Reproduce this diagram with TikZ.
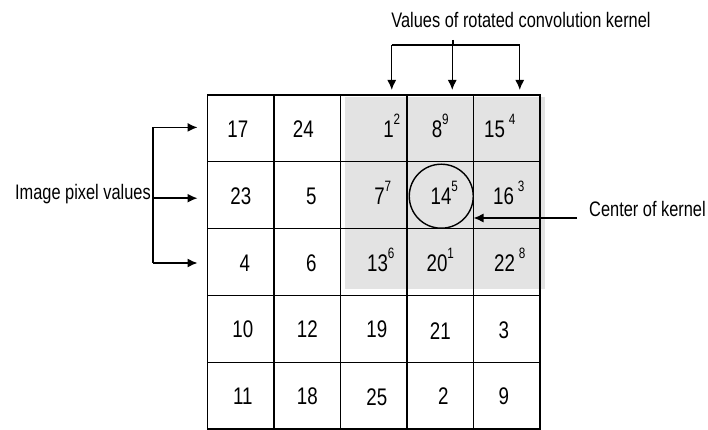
\documentclass[tikz,border=0pt]{standalone}
\usepackage{fontspec}
\setmainfont{Liberation Sans}[FakeStretch=0.78]
\usetikzlibrary{arrows.meta,calc}
\newcommand\kup[1]{\raisebox{13pt}{\fontsize{15}{15}\selectfont #1}}
\begin{document}
\begin{tikzpicture}[x=1pt,y=-1pt,
 cell/.style={draw, line width=1.4pt, minimum width=66.5pt, minimum height=66.8pt, inner sep=0pt, outer sep=0pt},
 num/.style={anchor=base, inner sep=0pt, font=\fontsize{24}{24}\selectfont},
 lbl/.style={inner sep=0pt, font=\fontsize{21}{21}\selectfont},
 arr/.style={line width=1.4pt, -{Latex[length=10pt,width=9pt]}},
 ln/.style={line width=1.4pt}]
\useasboundingbox (0,0) rectangle (708,430);
\fill[black!11] (345,97) rectangle (545,289);
\foreach \r in {1,...,5}{
  \foreach \c in {1,...,5}{
    \node[cell] (c\r\c) at ({207.5+66.5*(\c-0.5)},{95+66.8*(\r-0.5)}) {};
  }
}
% numbers
\node[num] (n11) at ($(c11.center)+(-3,9)$) {17};
\node[num] (n12) at ($(c12.center)+(-4,9)$) {24};
\node[num] (n13) at ($(c13.center)+(18,9)$) {1\kup{2}};
\node[num] (n14) at ($(c14.center)+(0,9)$) {8\kup{9}};
\node[num] (n15) at ($(c15.center)+(-7,9)$) {15\,\kup{4}};
\node[num] (n21) at ($(c21.center)+(0,9)$) {23};
\node[num] (n22) at ($(c22.center)+(4,9)$) {5};
\node[num] (n23) at ($(c23.center)+(9,9)$) {7\kup{7}};
\node[num] (n24) at ($(c24.center)+(4,9)$) {14\kup{5}};
\node[num] (n25) at ($(c25.center)+(2,9)$) {16\,\kup{3}};
\node[num] (n31) at ($(c31.center)+(4,9)$) {4};
\node[num] (n32) at ($(c32.center)+(4,9)$) {6};
\node[num] (n33) at ($(c33.center)+(7,9)$) {13\kup{6}};
\node[num] (n34) at ($(c34.center)+(0,9)$) {20\kup{1}};
\node[num] (n35) at ($(c35.center)+(3,9)$) {22\,\kup{8}};
\node[num] (n41) at ($(c41.center)+(2,9)$) {10};
\node[num] (n42) at ($(c42.center)+(0,9)$) {12};
\node[num] (n43) at ($(c43.center)+(3,9)$) {19};
\node[num] (n44) at ($(c44.center)+(0,11)$) {21};
\node[num] (n45) at ($(c45.center)+(-3,10)$) {3};
\node[num] (n51) at ($(c51.center)+(2,9)$) {11};
\node[num] (n52) at ($(c52.center)+(0,9)$) {18};
\node[num] (n53) at ($(c53.center)+(3,10)$) {25};
\node[num] (n54) at ($(c54.center)+(3,9)$) {2};
\node[num] (n55) at ($(c55.center)+(-3,9)$) {9};
% kernel centre circle
\node[draw, circle, line width=1.4pt, minimum size=64pt, inner sep=0pt] (ring) at ($(c24.center)+(1,1)$) {};
% top label and arrows
\node[lbl, anchor=base] (vk) at (521,28) {Values of rotated convolution kernel};
\coordinate (t1) at ($(c13.north)+(18,-5)$);
\coordinate (t2) at ($(c14.north)+(12,-5)$);
\coordinate (t3) at ($(c15.north)+(13,-5)$);
\coordinate (vj) at (453,45);
\draw[ln] ($(vk.base -| vj)+(0,12)$) -- (vj);
\draw[ln] (t1 |- vj) -- (t3 |- vj);
\draw[arr] (t1 |- vj) -- (t1);
\draw[arr] (t2 |- vj) -- (t2);
\draw[arr] (t3 |- vj) -- (t3);
% left label and arrows
\node[lbl, anchor=base east] (ip) at (151,200) {Image pixel values};
\coordinate (l1) at ($(c11.west)+(-10,-1)$);
\coordinate (l2) at ($(c21.west)+(-10,3)$);
\coordinate (l3) at ($(c31.west)+(-10,1)$);
\coordinate (lb) at ($(ip.base east)+(2,0)$);
\draw[ln] (l1 -| lb) -- (l3 -| lb);
\draw[arr] (l1 -| lb) -- (l1);
\draw[arr] (l2 -| lb) -- (l2);
\draw[arr] (l3 -| lb) -- (l3);
% centre of kernel label
\node[lbl, anchor=base west] (ck) at (589,216) {Center of kernel};
\coordinate (ckin) at ($(ck.base west)+(-12,2)$);
\draw[arr] (ckin) -- (ckin -| c25.west);
\end{tikzpicture}
\end{document}
